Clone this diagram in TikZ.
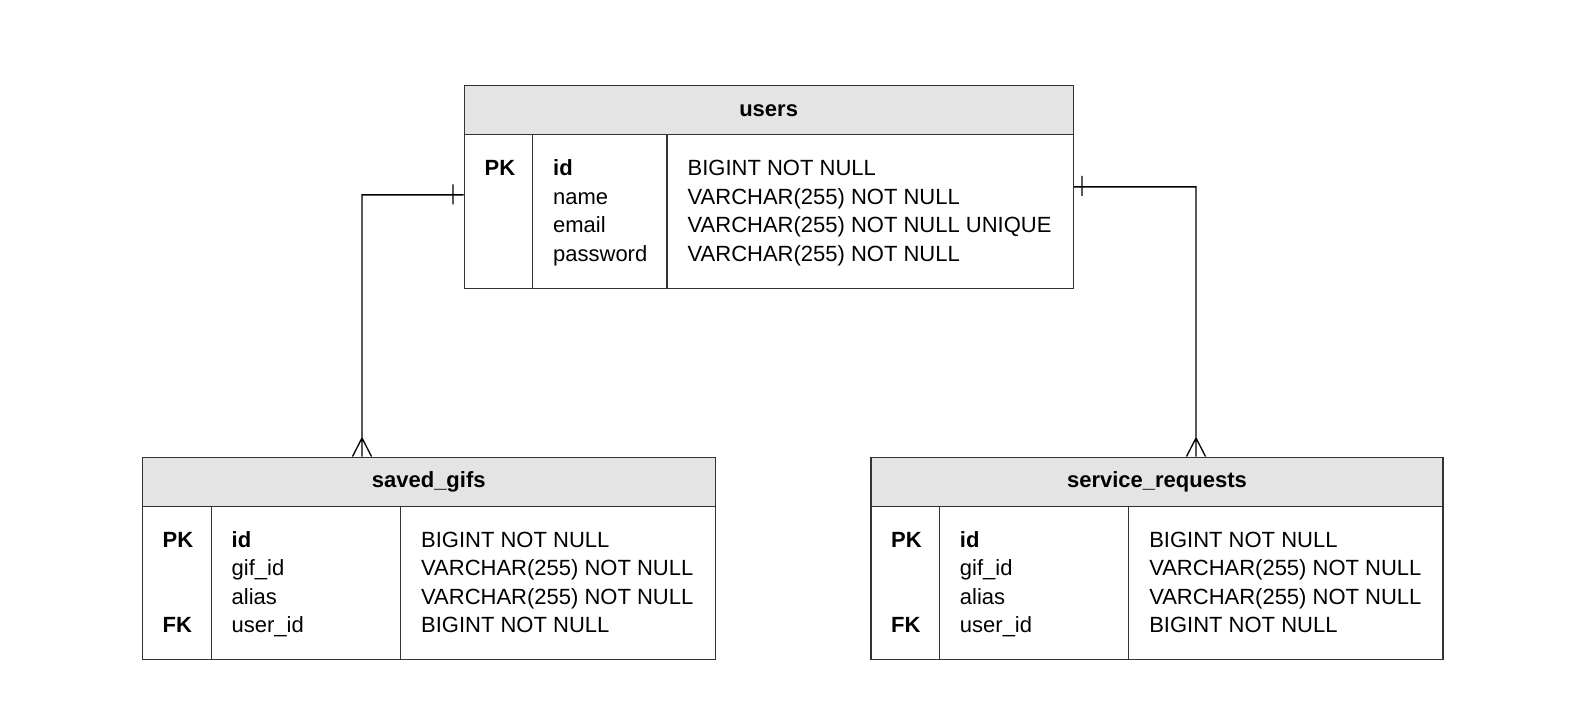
\documentclass[tikz,border=0pt]{standalone}
\usepackage{fontspec}
\setmainfont{Liberation Sans}
\definecolor{headgray}{HTML}{E4E4E4}
\definecolor{edge}{HTML}{333333}

\begin{document}
\begin{tikzpicture}[x=1pt,y=-1pt,line width=1.3pt,
        every node/.style={font=\fontsize{22}{26}\selectfont},
        tbl/.style={draw=edge,inner sep=0pt,anchor=north west,minimum height=202.5pt},
        head/.style={draw=edge,fill=headgray,inner sep=0pt,anchor=north west,minimum height=49pt,text height=12pt,text depth=0pt,font=\fontsize{22}{26}\selectfont\bfseries},
        row/.style={anchor=base west,inner sep=0pt}]
            \useasboundingbox (0,0) rectangle (1587,722);

            % users
            \node (users) at (463.5,85) [tbl,minimum width=609pt] {};
            \node (usersh) at (463.5,85) [head,minimum width=609pt] {users};
            \draw[edge] (532.5,134) -- (532.5,287.5) (667,134) -- (667,287.5);
            \node (u1) at (484,176) [row,font=\fontsize{22}{26}\selectfont\bfseries] {PK};
            \node (u2) at (552.5,176) [row,font=\fontsize{22}{26}\selectfont\bfseries] {id};
            \node (u3) at (552.5,204.4) [row] {name};
            \node (u4) at (552.5,232.8) [row] {email};
            \node (u5) at (552.5,261.2) [row] {password};
            \node (u6) at (687,176) [row] {BIGINT NOT NULL};
            \node (u7) at (687,204.4) [row] {VARCHAR(255) NOT NULL};
            \node (u8) at (687,232.8) [row] {VARCHAR(255) NOT NULL UNIQUE};
            \node (u9) at (687,261.2) [row] {VARCHAR(255) NOT NULL};

            % saved_gifs
            \node (gifs) at (141.7,456.5) [tbl,minimum width=572.8pt] {};
            \node (gifsh) at (141.7,456.5) [head,minimum width=572.8pt] {saved\_gifs};
            \draw[edge] (211.5,505.5) -- (211.5,659) (400.8,505.5) -- (400.8,659);
            \node (g1) at (162,547.4) [row,font=\fontsize{22}{26}\selectfont\bfseries] {PK};
            \node (g2) at (162,632.6) [row,font=\fontsize{22}{26}\selectfont\bfseries] {FK};
            \node (g3) at (231,547.4) [row,font=\fontsize{22}{26}\selectfont\bfseries] {id};
            \node (g4) at (231,575.8) [row] {gif\_id};
            \node (g5) at (231,604.2) [row] {alias};
            \node (g6) at (231,632.6) [row] {user\_id};
            \node (g7) at (420.5,547.4) [row] {BIGINT NOT NULL};
            \node (g8) at (420.5,575.8) [row] {VARCHAR(255) NOT NULL};
            \node (g9) at (420.5,604.2) [row] {VARCHAR(255) NOT NULL};
            \node (g10) at (420.5,632.6) [row] {BIGINT NOT NULL};

            % service_requests
            \node (reqs) at (870.4,456.5) [tbl,minimum width=571.8pt] {};
            \node (reqsh) at (870.4,456.5) [head,minimum width=571.8pt] {service\_requests};
            \draw[edge] (939.2,505.5) -- (939.2,659) (1128.5,505.5) -- (1128.5,659);
            \node (r1) at (890.5,547.4) [row,font=\fontsize{22}{26}\selectfont\bfseries] {PK};
            \node (r2) at (890.5,632.6) [row,font=\fontsize{22}{26}\selectfont\bfseries] {FK};
            \node (r3) at (959.3,547.4) [row,font=\fontsize{22}{26}\selectfont\bfseries] {id};
            \node (r4) at (959.3,575.8) [row] {gif\_id};
            \node (r5) at (959.3,604.2) [row] {alias};
            \node (r6) at (959.3,632.6) [row] {user\_id};
            \node (r7) at (1148.6,547.4) [row] {BIGINT NOT NULL};
            \node (r8) at (1148.6,575.8) [row] {VARCHAR(255) NOT NULL};
            \node (r9) at (1148.6,604.2) [row] {VARCHAR(255) NOT NULL};
            \node (r10) at (1148.6,632.6) [row] {BIGINT NOT NULL};

            % relations
            \coordinate (gend) at (362,456.5);
            \coordinate (rend) at (1196,456.5);
            \draw ([yshift=-8pt]users.west) -| (gend)
            (453,184.3) -- (453,204.3) (352.5,456.5) -- (362,438) -- (371.5,456.5);
            \draw (users.east) -| (rend)
            (1082,176) -- (1082,196) (1186.5,456.5) -- (1196,438) -- (1205.5,456.5);

        \end{tikzpicture}
\end{document}
